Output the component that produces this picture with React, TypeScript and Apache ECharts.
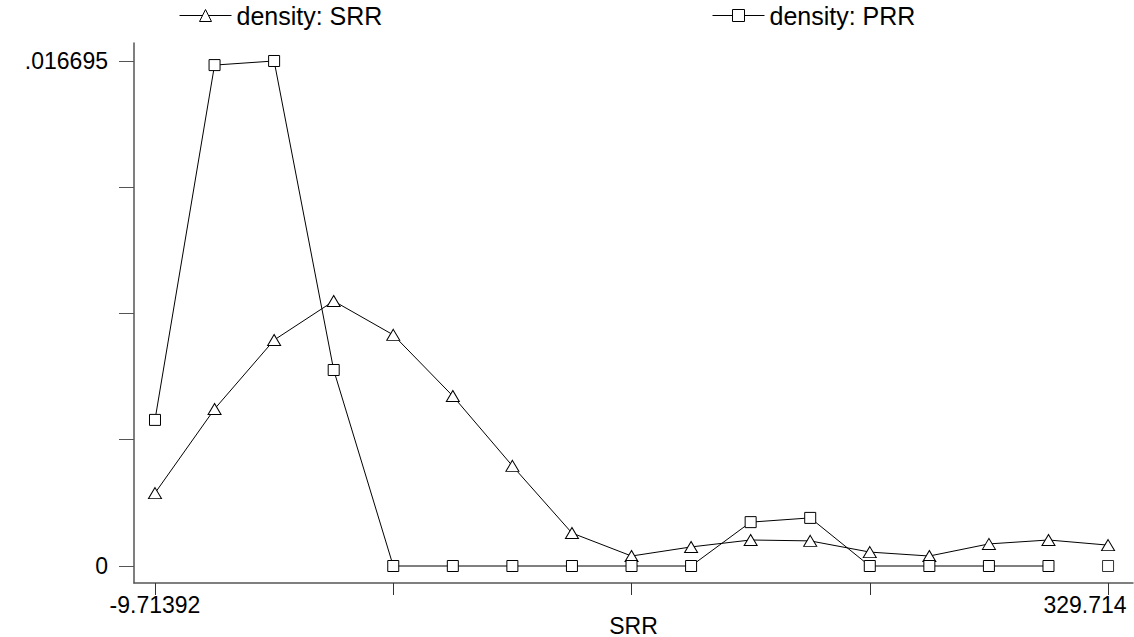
import React, { useEffect, useRef } from "react";
import * as echarts from "echarts";

const xValues = [-9.71392, 11.5, 32.714, 53.928, 75.143, 96.357, 117.571, 138.785, 160.0, 181.214, 202.428, 223.642, 244.857, 266.071, 287.285, 308.5, 329.714];
const srrDensity = [0.00241, 0.00519, 0.00747, 0.00876, 0.00764, 0.00562, 0.00331, 0.00109, 0.00033, 0.00063, 0.00086, 0.00083, 0.00046, 0.00033, 0.00073, 0.00086, 0.00069];
const prrDensity = [0.00483, 0.01656, 0.016695, 0.00648, 0, 0, 0, 0, 0, 0, 0.00145, 0.00159, 0, 0, 0, 0, 0];
const xTicks = [-9.71392, 75.143, 160.0, 244.857, 329.714];
const xTickLabels = ["-9.71392", "329.714"];
const yTicks = [0, 0.00417375, 0.0083475, 0.01252125, 0.016695];
const yTickLabels = ["0", ".016695"];

const FONT = "'Liberation Sans', Arial, sans-serif";

export default function App() {
  const ref = useRef<HTMLDivElement>(null);
  useEffect(() => {
    if (!ref.current) return;
    const chart = echarts.init(ref.current, null, { renderer: "svg" });
    const srrPts = xValues.map((x, i) => [x, srrDensity[i]]);
    const prrPts = xValues.map((x, i) => [x, prrDensity[i]]);
    const lastIdx = prrPts.length - 1;
    const markerStyle = { color: "#fff", borderColor: "#000", borderWidth: 1 };
    const legendBase = {
      top: 3,
      padding: 0,
      itemWidth: 52,
      itemHeight: 15,
      itemGap: 8,
      lineStyle: { width: 1 },
      itemStyle: { borderWidth: 1 },
      textStyle: { fontSize: 25, color: "#000", fontFamily: FONT },
    };
    chart.setOption({
      animation: false,
      backgroundColor: "#fff",
      textStyle: { fontFamily: FONT },
      legend: [
        { ...legendBase, left: 179, data: ["density: SRR"] },
        { ...legendBase, left: 712, data: ["density: PRR"] },
      ],
      grid: { left: 134, right: 1, top: 43, bottom: 54, containLabel: false, outerBoundsMode: "none" },
      xAxis: {
        type: "value",
        min: -17.19,
        max: 338.6,
        name: "SRR",
        nameLocation: "middle",
        nameGap: 31,
        nameMoveOverlap: false,
        nameTextStyle: { fontSize: 23, color: "#000", fontFamily: FONT },
        axisLine: { show: true, onZero: false, lineStyle: { color: "#555", width: 1.5 } },
        axisTick: { show: true, length: 12, lineStyle: { color: "#333", width: 1 }, customValues: xTicks },
        axisLabel: {
          customValues: [xTicks[0], xTicks[xTicks.length - 1]],
          formatter: (v: number) => (Math.abs(v - xTicks[0]) < 1e-6 ? "{a|" + xTickLabels[0] + "}" : "{b|" + xTickLabels[1] + "}"),
          fontSize: 23,
          color: "#000",
          margin: 10,
          fontFamily: FONT,
          rich: {
            a: { fontSize: 23, color: "#000", fontFamily: FONT },
            b: { fontSize: 23, color: "#000", fontFamily: FONT, padding: [0, 46, 0, 0] },
          },
        },
        splitLine: { show: false },
      },
      yAxis: {
        type: "value",
        min: -0.000562,
        max: 0.01729,
        axisLine: { show: true, onZero: false, lineStyle: { color: "#555", width: 1.5 } },
        axisTick: { show: true, length: 15, lineStyle: { color: "#555", width: 1 }, customValues: yTicks },
        axisLabel: {
          customValues: [yTicks[0], yTicks[yTicks.length - 1]],
          formatter: (v: number) => (v === 0 ? yTickLabels[0] : yTickLabels[1]),
          fontSize: 23,
          color: "#000",
          margin: 26,
          fontFamily: FONT,
        },
        splitLine: { show: false },
      },
      series: [
        {
          name: "density: SRR",
          type: "line",
          data: srrPts,
          symbol: "triangle",
          symbolSize: [13, 11],
          showAllSymbol: true,
          lineStyle: { color: "#000", width: 1 },
          itemStyle: markerStyle,
        },
        {
          name: "density: PRR",
          type: "line",
          data: prrPts.slice(0, lastIdx),
          symbol: "rect",
          symbolSize: 11,
          showAllSymbol: true,
          lineStyle: { color: "#000", width: 1 },
          itemStyle: markerStyle,
        },
        {
          name: "PRR end",
          type: "scatter",
          data: prrPts.slice(lastIdx),
          symbol: "rect",
          symbolSize: 11,
          itemStyle: markerStyle,
        },
      ],
    });
    return () => chart.dispose();
  }, []);
  return <div ref={ref} style={{ width: 1134, height: 637, position: "absolute", left: 0, top: 0 }} />;
}
